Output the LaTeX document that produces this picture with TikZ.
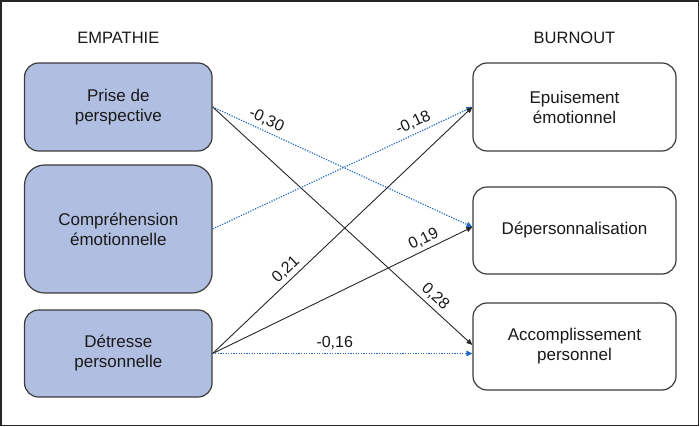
\documentclass[tikz,border=0pt]{standalone}
\usepackage{fontspec}
\setmainfont{Liberation Sans}
\usetikzlibrary{arrows.meta}
\definecolor{boxfill}{RGB}{175,190,225}
\definecolor{boxline}{RGB}{60,60,60}
\definecolor{dotblue}{RGB}{35,105,195}
\begin{document}
\begin{tikzpicture}[x=1pt,y=-1pt,
  boxtext/.style={align=center, font=\fontsize{17}{20}\selectfont, inner sep=0pt, text=black!90},
  lbox/.style={boxtext, draw=boxline, line width=1.2pt, fill=boxfill, rounded corners=14pt, minimum width=187.5pt},
  rbox/.style={boxtext, draw=boxline, line width=1.2pt, fill=white, rounded corners=14pt, minimum width=203pt, minimum height=87pt},
  header/.style={font=\fontsize{16.5}{20}\selectfont, text=black!90},
  solidarrow/.style={draw=black!85, line width=0.9pt, -{Triangle[length=6pt,width=5pt]}},
  dotarrow/.style={draw=dotblue, line width=1.2pt, dash pattern=on 1.2pt off 1.4pt, -{Triangle[length=6pt,width=5.5pt,fill=dotblue]}},
  coef/.style={font=\fontsize{16}{18}\selectfont, sloped, above, inner sep=3.5pt, text=black!90}
]
\useasboundingbox (0,0) rectangle (700,427);
\draw[line width=1.5pt, draw=black!85] (1,1) rectangle (698.5,425.5);

\node[header] (hemp) at (118.3,38) {EMPATHIE};
\node[header] (hburn) at (574.5,37.5) {BURNOUT};

\node[lbox, minimum height=88pt] (pp) at (118.3,107) {Prise de\\perspective};
\node[lbox, minimum height=128pt, rounded corners=20pt] (ce) at (118.3,229) {Compréhension\\émotionnelle};
\node[lbox, minimum height=87pt] (dp) at (118.3,353.5) {Détresse\\personnelle};

\node[rbox, minimum height=88pt] (ee) at (574.5,107) {Epuisement\\émotionnel};
\node[rbox] (dep) at (574.5,230.5) {Dépersonnalisation};
\node[rbox] (acc) at (574.5,346.5) {Accomplissement\\personnel};

\coordinate (depin) at ([yshift=3.5pt]dep.west);
\coordinate (accin) at ([yshift=1.5pt]acc.west);
\coordinate (accin2) at (dp.east -| acc.west);

\draw[dotarrow] (pp.east) -- node[coef, pos=0.19] {-0,30} (depin);
\draw[solidarrow] (pp.east) -- node[coef, pos=0.83] {0,28} (accin);
\draw[dotarrow] (ce.east) -- node[coef, pos=0.79] {-0,18} (ee.west);
\draw[solidarrow] (dp.east) -- node[coef, pos=0.31] {0,21} (ee.west);
\draw[solidarrow] (dp.east) -- node[coef, pos=0.83] {0,19} (depin);
\draw[dotarrow] (dp.east) -- node[coef, pos=0.47] {-0,16} (accin2);
\end{tikzpicture}
\end{document}
